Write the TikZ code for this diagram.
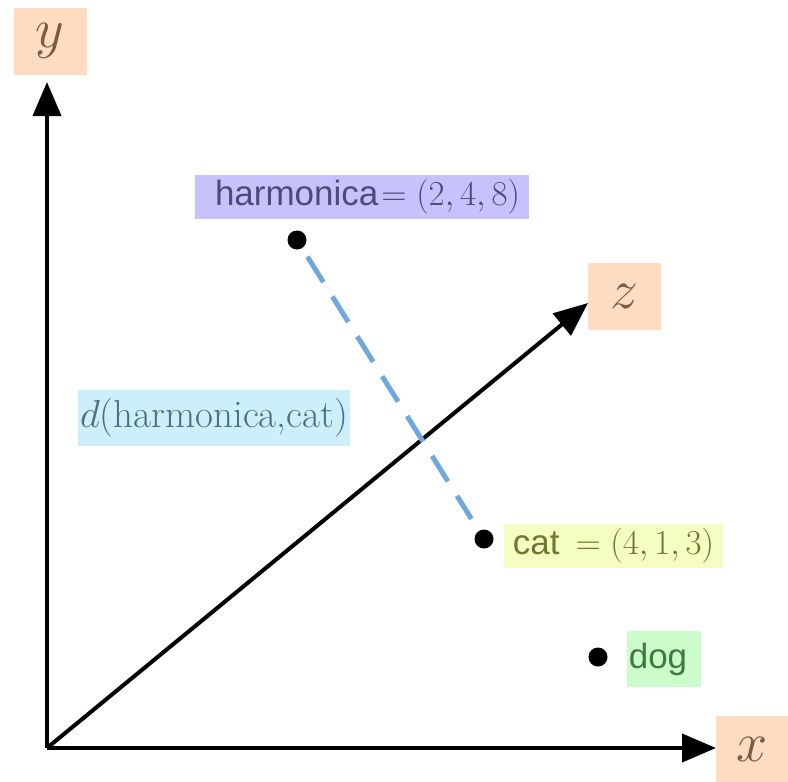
\RequirePackage{fix-cm}
\documentclass[tikz,border=0pt]{standalone}
\usepackage{fontspec}
\newfontfamily\sansf{Liberation Sans}
\usetikzlibrary{arrows.meta}
\definecolor{axbg}{HTML}{FDDCC2}
\definecolor{axfg}{HTML}{7B5A46}
\definecolor{hbg}{HTML}{C6C2FB}
\definecolor{hfg}{HTML}{4B4B7D}
\definecolor{cbg}{HTML}{F6FDC2}
\definecolor{cfg}{HTML}{6D7A2E}
\definecolor{dbg}{HTML}{CCFCCC}
\definecolor{dfg}{HTML}{3E7A3E}
\definecolor{lbg}{HTML}{CDEEFB}
\definecolor{lfg}{HTML}{4E6E80}
\definecolor{dashc}{HTML}{6FA8DC}
\tikzset{
  axlab/.style={fill=axbg, text=axfg, inner sep=0pt, minimum width=73pt, minimum height=67pt,
    font=\fontsize{56}{60}\selectfont},
  lab/.style={inner sep=0pt, minimum height=44pt, font=\fontsize{35}{38}\selectfont},
  axis/.style={line width=4pt, -{Triangle[length=34pt,width=28pt]}},
  pt/.style={circle, fill=black, inner sep=0pt, minimum size=19pt},
  dist/.style={dashc, line width=5pt, dash pattern=on 30pt off 17pt}
}
\begin{document}
\begin{tikzpicture}[x=1pt,y=-1pt]
\useasboundingbox (0,0) rectangle (788,782);
% axis labels
\node[axlab] (ylab) at (50,41) {$y$};
\node[axlab] (zlab) at (624.5,296) {$z$};
\node[axlab, minimum width=72pt, minimum height=66pt] (xlab) at (752,749) {$x$};
% axes
\coordinate (O) at (47,748);
\coordinate (ytip) at (47,82);
\coordinate (xtip) at (716,748);
\coordinate (ztip) at (588,303);
\draw[axis] (O) -- (ytip);
\draw[axis] (O) -- (xtip);
\draw[axis] (O) -- (ztip);
% labels
\node[lab, fill=hbg, text=hfg, minimum width=334pt] (hlab) at (362,197)
  {\hspace{11pt}{\sansf harmonica}\hspace{3pt}$= (2,4,8)$};
\node[lab, fill=cbg, text=cfg, minimum width=219pt] (clab) at (613.5,546)
  {{\sansf cat}\hspace{16pt}$= (4,1,3)$};
\node[lab, fill=dbg, text=dfg, minimum width=74pt, minimum height=56pt] (dlab) at (664,659)
  {\hspace{-12pt}\sansf dog};
\node[lab, fill=lbg, text=lfg, minimum width=272pt, minimum height=56pt, font=\fontsize{39}{42}\selectfont] (llab) at (214,418)
  {$d$(harmonica,cat)};
% points
\node[pt] (h) at (297,240) {};
\node[pt] (c) at (484,539) {};
\node[pt] (d) at (598,657) {};
\draw[dist, shorten <=10pt, shorten >=14pt] (h) -- (c);
\end{tikzpicture}
\end{document}
